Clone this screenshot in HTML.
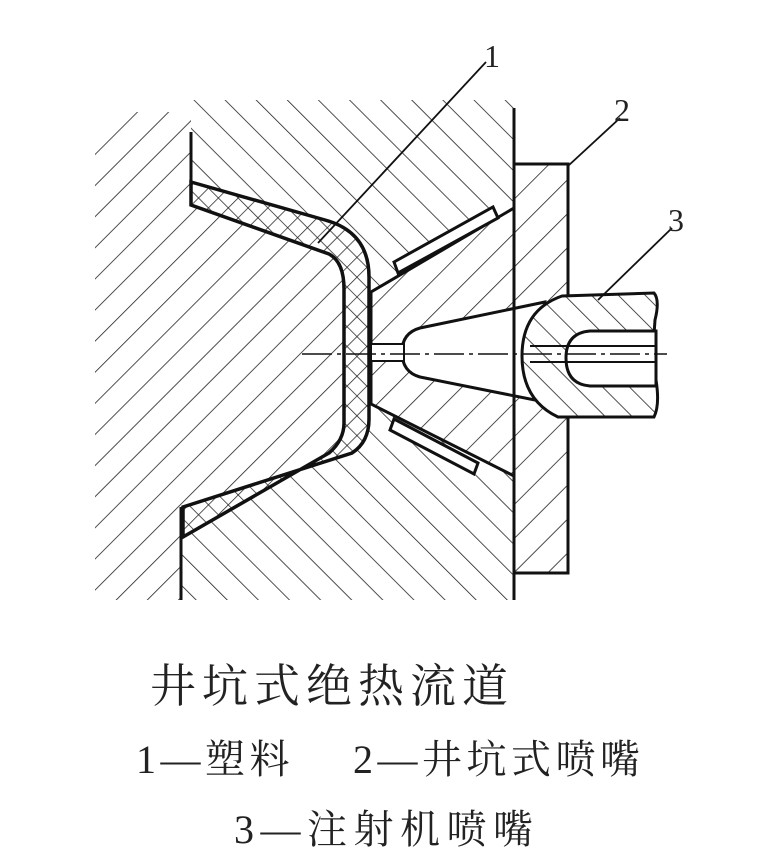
<!DOCTYPE html>
<html><head><meta charset="utf-8"><style>
html,body{margin:0;padding:0;background:#fff;}
#c{position:relative;width:768px;height:852px;overflow:hidden;}
.t{position:absolute;font-family:"Liberation Serif","Noto Serif CJK SC",serif;color:#222;white-space:pre;}
</style></head><body><div id="c">
<svg width="768" height="852" style="position:absolute;left:0;top:0">
<defs>
<pattern id="hs" patternUnits="userSpaceOnUse" width="22" height="22" patternTransform="rotate(45)"><line x1="0" y1="0" x2="0" y2="22" stroke="#222" stroke-width="1.6"/></pattern>
<pattern id="hb" patternUnits="userSpaceOnUse" width="22" height="22" patternTransform="rotate(-45)"><line x1="0" y1="0" x2="0" y2="22" stroke="#222" stroke-width="1.6"/></pattern>
<pattern id="hn" patternUnits="userSpaceOnUse" width="24" height="24" patternTransform="rotate(45)"><line x1="0" y1="0" x2="0" y2="24" stroke="#222" stroke-width="1.6"/></pattern>
<pattern id="h3" patternUnits="userSpaceOnUse" width="19" height="19" patternTransform="rotate(-45)"><line x1="0" y1="0" x2="0" y2="19" stroke="#222" stroke-width="1.6"/></pattern>
<pattern id="xa" patternUnits="userSpaceOnUse" width="14" height="14" patternTransform="rotate(45)"><line x1="0" y1="0" x2="0" y2="14" stroke="#222" stroke-width="1.5"/></pattern>
<pattern id="xb" patternUnits="userSpaceOnUse" width="14" height="14" patternTransform="rotate(-45)"><line x1="0" y1="0" x2="0" y2="14" stroke="#222" stroke-width="1.5"/></pattern>
</defs>
<path d="M95,150 L135,112 L191,112 L191,205 L329,254 Q344,262 344,289 L344,423 Q344,440 329,453 L183,537 L180,600 L95,600 Z" fill="url(#hs)"/>
<path d="M191,100 L514,100 L514,208 L371,292 L369,277 Q369,232 325,220 L191,182 Z" fill="url(#hb)"/>
<path d="M180,600 L514,600 L514,476 L371,404 L369,419 Q369,442 352,453 L183,507 Z" fill="url(#hb)"/>
<path d="M191,182 L325,220 Q369,232 369,277 L369,419 Q369,442 352,453 L183,507 L183,537 L329,453 Q344,440 344,423 L344,289 Q344,262 329,254 L191,205 Z" fill="#fff"/>
<path d="M191,182 L325,220 Q369,232 369,277 L369,419 Q369,442 352,453 L183,507 L183,537 L329,453 Q344,440 344,423 L344,289 Q344,262 329,254 L191,205 Z" fill="url(#xa)"/>
<path d="M191,182 L325,220 Q369,232 369,277 L369,419 Q369,442 352,453 L183,507 L183,537 L329,453 Q344,440 344,423 L344,289 Q344,262 329,254 L191,205 Z" fill="url(#xb)" stroke="#111" stroke-width="3.5"/>
<path d="M514,164 L568,164 L568,573 L514,573 L514,476 L371,404 L371,292 L514,208 Z" fill="#fff"/>
<path d="M514,164 L568,164 L568,573 L514,573 L514,476 L371,404 L371,292 L514,208 Z" fill="url(#hn)" stroke="#111" stroke-width="3"/>
<path d="M545,302 L420,328 Q402,333 402,352 Q402,372 420,377 L545,402 Z" fill="#fff" stroke="#111" stroke-width="3"/>
<rect x="371" y="344" width="33" height="17" fill="#fff" stroke="#111" stroke-width="2"/>
<path d="M394,262 L493,207 L498,218 L398,273 Z" fill="#fff" stroke="#111" stroke-width="3"/>
<path d="M394,419 L478,463 L474,474 L390,430 Z" fill="#fff" stroke="#111" stroke-width="3"/>
<line x1="514" y1="108" x2="514" y2="600" stroke="#111" stroke-width="3"/>
<line x1="191" y1="132" x2="191" y2="205" stroke="#111" stroke-width="3"/>
<line x1="181" y1="507" x2="181" y2="600" stroke="#111" stroke-width="3"/>
<path d="M562,296 L654,293 Q660,300 655,320 Q652,360 656,380 Q660,405 654,417 L558,417 Q522,400 522,356 Q522,310 562,296 Z" fill="#fff"/>
<path d="M562,296 L654,293 Q660,300 655,320 Q652,360 656,380 Q660,405 654,417 L558,417 Q522,400 522,356 Q522,310 562,296 Z" fill="url(#h3)" stroke="#111" stroke-width="3"/>
<path d="M656,331 L590,331 Q566,333 566,358 Q566,384 590,386 L656,386 Z" fill="#fff" stroke="#111" stroke-width="3"/>
<line x1="530" y1="346" x2="656" y2="346" stroke="#111" stroke-width="2"/>
<line x1="530" y1="362" x2="656" y2="362" stroke="#111" stroke-width="2"/>
<line x1="302" y1="354" x2="667" y2="354" stroke="#111" stroke-width="1.5" stroke-dasharray="30,5,4,5"/>
<line x1="486" y1="62" x2="318" y2="243" stroke="#111" stroke-width="1.8"/>
<line x1="620" y1="118" x2="568" y2="166" stroke="#111" stroke-width="1.8"/>
<line x1="672" y1="228" x2="598" y2="300" stroke="#111" stroke-width="1.8"/>
</svg>
<div class="t" style="left:484px;top:38px;font-size:32px;">1</div>
<div class="t" style="left:614px;top:92px;font-size:32px;">2</div>
<div class="t" style="left:668px;top:202px;font-size:32px;">3</div>
<div class="t" style="left:150px;top:650px;font-size:46px;letter-spacing:6px;">井坑式绝热流道</div>
<div class="t" style="left:136px;top:728px;font-size:40px;letter-spacing:4.5px;">1—塑料　 2—井坑式喷嘴</div>
<div class="t" style="left:234px;top:798px;font-size:40px;letter-spacing:6.5px;">3—注射机喷嘴</div>
</div></body></html>
